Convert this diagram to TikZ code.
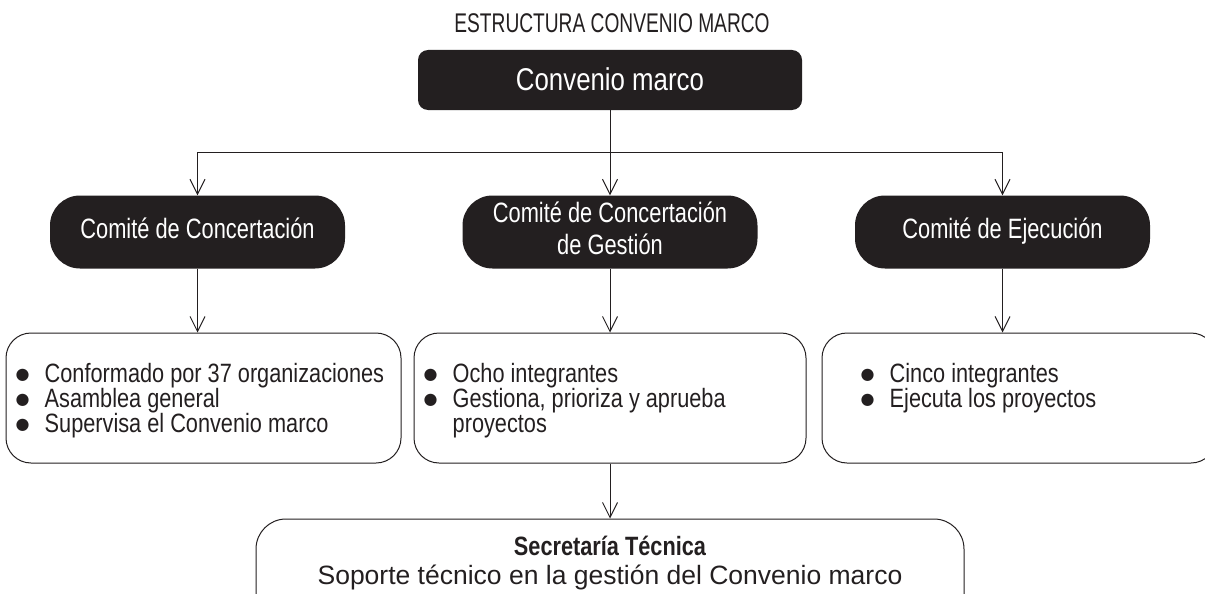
\documentclass[tikz,border=0pt]{standalone}
\usepackage{fontspec}
\setmainfont{Liberation Sans}[FakeStretch=0.82]
\newfontfamily\widefont{Liberation Sans}
\newfontfamily\dotfont{DejaVu Sans}
\newfontfamily\titlefont{Liberation Sans}[FakeStretch=0.71]
\newfontfamily\boxfont{Liberation Sans}[FakeStretch=0.78]
\usetikzlibrary{arrows.meta}
\definecolor{ink}{RGB}{35,31,32}
\newcommand{\itm}[1]{\makebox[29pt][l]{\raisebox{3pt}{\dotfont\fontsize{16}{16}\selectfont ●}}#1}
\newcommand{\cnt}[1]{\hspace*{29pt}#1}
\newcommand{\stack}[1]{\begin{tabular}{@{}c@{}}#1\end{tabular}}
\tikzset{
  darkbox/.style={fill=ink, text=white, rounded corners=30pt, inner sep=0pt,
    minimum width=295pt, minimum height=73pt, font=\boxfont\fontsize{28}{32}\selectfont},
  listbox/.style={draw=ink, line width=1pt, rounded corners=25pt,
    minimum height=130pt, inner sep=0pt},
  listtext/.style={anchor=north west, inner sep=0pt, align=left, text=ink,
    font=\fontsize{26.5}{25}\selectfont},
  link/.style={draw=ink, line width=1pt},
  arr/.style={link, -{Straight Barb[length=15pt, width=15pt]}},
}
\begin{document}
\begin{tikzpicture}[x=1pt, y=-1pt]
  \useasboundingbox (0,0) rectangle (1205,594);
  \clip (0,0) rectangle (1205,594);
  % title
  \node[anchor=base, text=ink, font=\titlefont\fontsize{27}{27}\selectfont] (title) at (612,33) {ESTRUCTURA CONVENIO MARCO};
  % top level
  \node[darkbox, rounded corners=10pt, minimum width=384pt, minimum height=60pt,
    text height=22pt, text depth=0pt, font=\fontsize{31.5}{32}\selectfont] (conv) at (610,80) {Convenio marco};
  % committees
  \node[darkbox] (cc) at (197.5,232) {\stack{Comité de Concertación}};
  \node[darkbox] (cg) at (610,232) {\stack{Comité de Concertación\\de Gestión}};
  \node[darkbox] (ce) at (1002.5,232) {\stack{Comité de Ejecución}};
  % lists
  \node[listbox, minimum width=395pt] (lc) at (203.5,398) {};
  \node[listbox, minimum width=392pt] (lg) at (610,398) {};
  \node[listbox, minimum width=394pt] (le) at (1019,398) {};
  \node[listtext] (lc-txt) at ([shift={(10,31)}]lc.north west)
    {\itm{Conformado por 37 organizaciones}\\\itm{Asamblea general}\\\itm{Supervisa el Convenio marco}};
  \node[listtext] (lg-txt) at ([shift={(10,31)}]lg.north west)
    {\itm{Ocho integrantes}\\\itm{Gestiona, prioriza y aprueba}\\\cnt{proyectos}};
  \node[listtext] (le-txt) at ([shift={(39,31)}]le.north west)
    {\itm{Cinco integrantes}\\\itm{Ejecuta los proyectos}};
  % secretaria
  \node[listbox, minimum width=708pt, minimum height=110pt, rounded corners=30pt] (sec) at (610,574) {};
  \node[anchor=base, text=ink, font=\bfseries\fontsize{26.5}{25}\selectfont] (sec-t) at (610,555) {Secretaría Técnica};
  \node[anchor=base, text=ink, font=\widefont\fontsize{26.5}{25}\selectfont] (sec-d) at (610,584) {Soporte técnico en la gestión del Convenio marco};
  % connectors
  \coordinate (hub) at (610,152);
  \draw[arr] (conv) -- (cg);
  \draw[arr] (hub) -| (cc.north);
  \draw[arr] (hub) -| (ce.north);
  \draw[arr] (cc) -- (cc |- lc.north);
  \draw[arr] (cg) -- (lg);
  \draw[arr] (ce) -- (ce |- le.north);
  \draw[arr] (lg) -- (sec);
\end{tikzpicture}
\end{document}
